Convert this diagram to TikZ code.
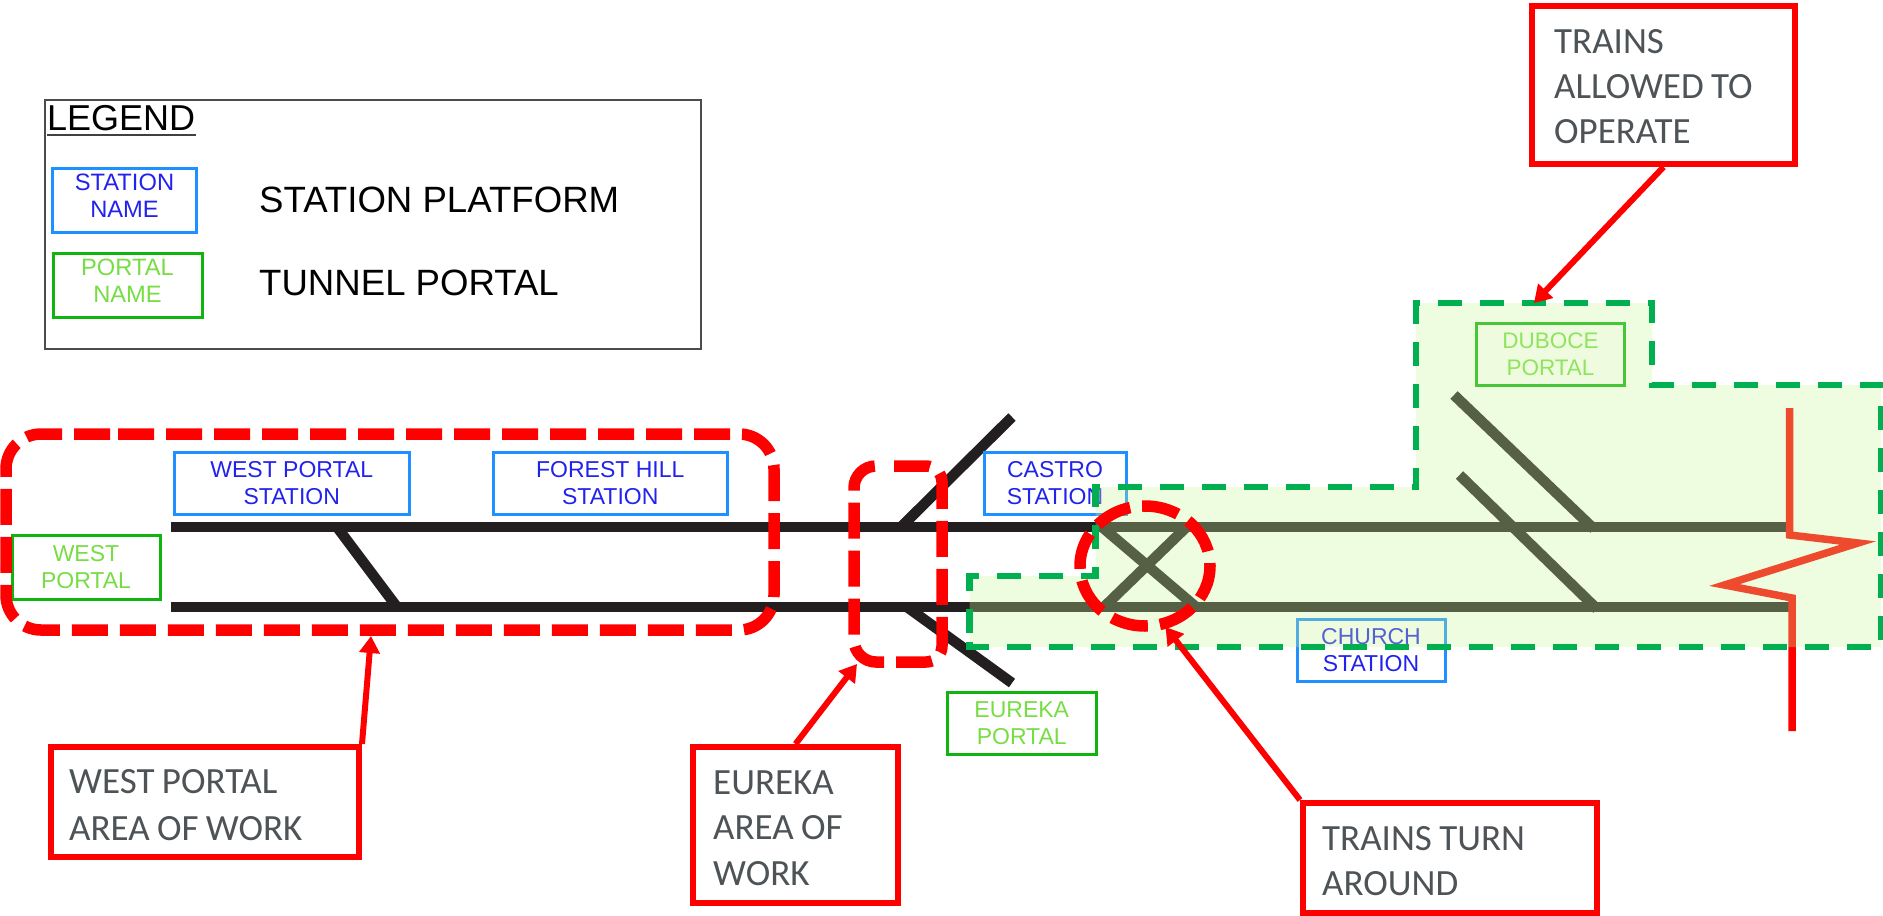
\documentclass[tikz,border=0pt]{standalone}
\usepackage{fontspec}
\setmainfont{Liberation Sans}
\newfontfamily\callfont[WordSpace=0.88]{Carlito}
\usetikzlibrary{arrows.meta,shapes.geometric}
\definecolor{trackc}{HTML}{231F20}
\definecolor{stblue}{HTML}{1E90FF}
\definecolor{sttext}{HTML}{2222EE}
\definecolor{portgreen}{HTML}{0FB40F}
\definecolor{porttext}{HTML}{77DD44}
\definecolor{zonegreen}{HTML}{00B050}
\definecolor{zonefill}{RGB}{200,245,150}
\definecolor{calltext}{HTML}{4D5356}
\tikzset{
 x=1pt,y=-1pt,
 track/.style={line width=10.5pt,draw=trackc},
 branch/.style={line width=10.5pt,draw=trackc},
 stbox/.style={draw=stblue,line width=3pt,fill=white,text=sttext,align=center,inner sep=0pt,
   font=\fontsize{23}{27}\selectfont},
 portbox/.style={draw=portgreen,line width=3pt,fill=white,text=porttext,align=center,inner sep=0pt,
   font=\fontsize{23}{27}\selectfont},
 lgname/.style={align=center,inner sep=0pt,font=\fontsize{23.7}{27}\selectfont},
 legendtext/.style={inner sep=0pt,anchor=west,font=\fontsize{36.6}{40}\selectfont,text=black},
 callbox/.style={draw=red,line width=6pt,fill=white,anchor=north west,inner sep=0pt},
 calllabel/.style={text=calltext,align=left,anchor=west,inner sep=0pt,
   font=\fontsize{37}{46.5}\callfont},
 callarrow/.style={draw=red,line width=6pt,-{Triangle[width=20pt,length=17pt]}},
 reddash/.style={draw=red,line width=11.5pt,dash pattern=on 36pt off 12pt},
 zone/.style={draw=zonegreen,line width=6.5pt,dash pattern=on 24pt off 18pt,fill=zonefill,fill opacity=.305,draw opacity=1},
 zigzag/.style={draw=red,line width=7.5pt,miter limit=20},
}
\begin{document}
\begin{tikzpicture}
\useasboundingbox (0,0) rectangle (1883,916);
% legend
\node[draw=black!70,line width=2pt,minimum width=656pt,minimum height=249pt,inner sep=0pt] (legend) at (372.5,224.5) {};
\node[inner sep=0pt,anchor=base west,font=\fontsize{36}{40}\selectfont] (legendtitle) at (47,130) {LEGEND};
\draw[black!75,line width=2.5pt] (legendtitle.base west)+(0,5) -- +(149,5);
\node[draw=stblue,line width=3pt,minimum width=144pt,minimum height=64pt,inner sep=0pt] (lgst) at (124.5,200) {};
\node[lgname,text=sttext] (lgstt) at (124.5,196) {STATION\\NAME};
\node[draw=portgreen,line width=3pt,minimum width=149pt,minimum height=64pt,inner sep=0pt] (lgpt) at (127.5,285) {};
\node[lgname,text=porttext] (lgptt) at (127.5,281) {PORTAL\\NAME};
\node[legendtext] (lgt1) at (259,200) {STATION PLATFORM};
\node[legendtext] (lgt2) at (259,283) {TUNNEL PORTAL};
% tracks
\coordinate (tl) at (171,527); \coordinate (tr) at (1787,527);
\coordinate (bl) at (171,607); \coordinate (br) at (1789,607);
\draw[track] (tl) -- (tr);
\draw[track] (bl) -- (br);
\coordinate (wa) at (337,527); \coordinate (wb) at (397,607);
\draw[branch] (wa) -- (wb);
\coordinate (ea) at (901,527); \coordinate (eb) at (1012,417);
\draw[branch] (ea) -- (eb);
\coordinate (ec) at (907,607); \coordinate (ed) at (1012,683);
\draw[branch] (ec) -- (ed);
\coordinate (xa) at (1102,527); \coordinate (xb) at (1196,607);
\coordinate (xc) at (1104,607); \coordinate (xd) at (1186.5,527);
\draw[branch] (xa) -- (xb);
\draw[branch] (xc) -- (xd);
\coordinate (da) at (1454,395); \coordinate (db) at (1594,529);
\coordinate (dc) at (1459.5,475); \coordinate (dd) at (1597,609);
\draw[branch] (da) -- (db);
\draw[branch] (dc) -- (dd);
% break symbol
\coordinate (z1) at (1789.5,408); \coordinate (z2) at (1789.5,535); \coordinate (z3) at (1858,543);
\coordinate (z4) at (1724.5,585); \coordinate (z5) at (1792,598); \coordinate (z6) at (1792,731);
\draw[zigzag] (z1) -- (z2) -- (z3) -- (z4) -- (z5) -- (z6);
% labels
\node[stbox,minimum width=234.5pt,minimum height=62pt] (wps) at (291.75,483) {WEST PORTAL\\STATION};
\node[stbox,minimum width=234.5pt,minimum height=62pt] (fhs) at (610.25,483) {FOREST HILL\\STATION};
\node[stbox,minimum width=142pt,minimum height=62pt] (cas) at (1055,483) {CASTRO\\STATION};
\node[stbox,minimum width=148pt,minimum height=62pt] (chs) at (1371,650) {CHURCH\\STATION};
\node[portbox,minimum width=148pt,minimum height=64pt] (wpp) at (86,567) {WEST\\PORTAL};
\node[portbox,minimum width=149.5pt,minimum height=62pt] (eup) at (1021.75,723) {EUREKA\\PORTAL};
\node[portbox,minimum width=148pt,minimum height=62pt,font=\fontsize{22.5}{27}\selectfont] (dup) at (1550.5,354) {DUBOCE\\PORTAL};
% zone
\draw[zone] (969.5,633) -- (969.5,576) -- (1095.5,576) -- (1095.5,487) -- (1416,487) -- (1416,303) -- (1652,303) -- (1652,385) -- (1881,385) -- (1881,647) -- (969.5,647) -- cycle;
% work areas
\draw[reddash,rounded corners=35pt] (83,434) -- (774,434) -- (774,630) -- (6,630) -- (6,434) -- cycle;
\draw[reddash,rounded corners=16pt] (894,466) -- (942,466) -- (942,662) -- (900,662) [rounded corners=22pt] -- (854,662) -- (854,466) -- (882,466);
\draw[reddash,dash pattern=on 37pt off 12.09pt,dash phase=34.09pt] (1145,566) ellipse [x radius=65pt,y radius=60pt];
% callouts
\node[callbox,minimum width=308pt,minimum height=110pt] (wpc) at (48,744) {};
\node[callbox,minimum width=205pt,minimum height=156pt] (euc) at (690,744) {};
\node[callbox,minimum width=294pt,minimum height=110pt] (tuc) at (1300,800) {};
\node[callbox,minimum width=263pt,minimum height=158pt] (alc) at (1529,3) {};
\node[calllabel] (wpl) at (69,805) {WEST PORTAL\\AREA OF WORK};
\node[calllabel,font=\fontsize{37}{45.5}\callfont] (eul) at (713,828) {EUREKA\\AREA OF\\WORK};
\node[calllabel,font=\fontsize{37}{45}\callfont] (tul) at (1322,861) {TRAINS TURN\\AROUND};
\node[calllabel,font=\fontsize{37}{45}\callfont] (all) at (1554,87) {TRAINS\\ALLOWED TO\\OPERATE};
\coordinate (wptip) at (371,636);
\coordinate (eutip) at (857,664);
\coordinate (tutip) at (1165.5,627);
\coordinate (altip) at (1534,303);
\draw[callarrow] (wpc.north east) -- (wptip);
\draw[callarrow] (euc.north) -- (eutip);
\draw[callarrow] (tuc.north west) -- (tutip);
\draw[callarrow] (alc.south) -- (altip);
\end{tikzpicture}
\end{document}
